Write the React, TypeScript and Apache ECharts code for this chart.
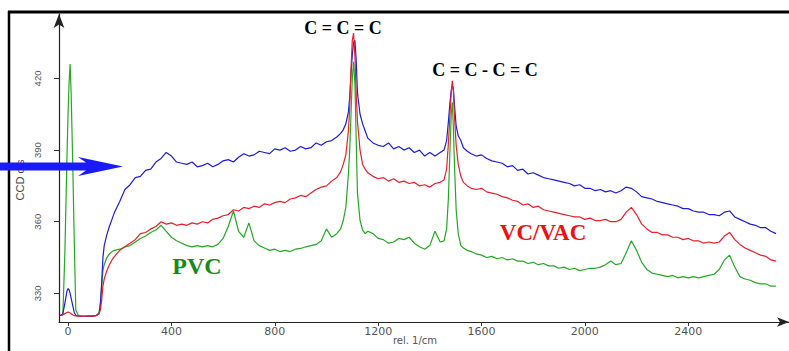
import React, { useEffect, useRef } from "react";
import * as echarts from "echarts";

// Raman shift (rel. 1/cm)
const wavenumbers = [
  -30, -20, -12, -4, 0, 4, 8, 12, 18, 24, 30, 40, 60, 80, 100, 110, 120, 125, 130, 135, 140, 150, 160, 170, 180, 200,
  220, 240, 260, 280, 300, 320, 340, 360, 380, 400, 420, 440, 460, 480, 500, 520, 540, 560, 580, 600, 620, 640, 660, 680,
  700, 720, 740, 760, 780, 800, 820, 840, 860, 880, 900, 920, 940, 960, 980, 1000, 1020, 1040,
  1055, 1065, 1075, 1085, 1090, 1095, 1100, 1105, 1110, 1115, 1120, 1130, 1140, 1150, 1160, 1180, 1200,
  1220, 1240, 1260, 1280, 1300, 1320, 1340, 1360, 1380, 1400, 1420, 1440,
  1455, 1465, 1472, 1478, 1483, 1487, 1491, 1496, 1502, 1510, 1520, 1530, 1545, 1560,
  1580, 1600, 1620, 1640, 1660, 1680, 1700, 1720, 1740, 1760, 1780, 1800, 1820, 1840, 1860, 1880, 1900, 1920, 1940, 1960,
  1980, 2000, 2020, 2040, 2060, 2080, 2100, 2120, 2140, 2160, 2180, 2200, 2220, 2240, 2260, 2280, 2300, 2320, 2340, 2360,
  2380, 2400, 2420, 2440, 2460, 2480, 2500, 2520, 2540, 2560, 2580, 2600, 2620, 2640, 2660, 2680, 2700, 2720, 2740,
];

// CCD counts, blue spectrum
const blueCounts = [
  320.6, 321.5, 326, 331, 332, 331.5, 330, 328, 325, 322, 320.8, 320.5, 320.4, 320.5, 320.5, 320.7, 321.5, 325, 334, 345, 350, 354.5, 358, 361, 364, 368.5,
  373.5, 375.5, 378.5, 379, 381.5, 382, 385, 386.5, 389, 387.5, 385, 384.5, 384, 385, 383, 383.5, 384.5, 383, 384, 385.5, 386, 385, 387, 388.5,
  387.5, 388, 389.5, 389, 388.5, 390.5, 390, 391, 389.5, 390, 391.5, 390.5, 391, 393, 392, 393.5, 394, 395.5,
  397, 398.5, 401, 406, 412, 422, 430, 435, 436, 428, 414, 405, 401, 398, 395, 393, 392,
  391.5, 393, 390.5, 391.5, 390, 391, 389, 390, 387.5, 389, 387.5, 389,
  390, 394, 402, 410, 415, 417, 416, 408, 400, 396, 394, 391, 389.5, 388.5,
  387.5, 388, 386.5, 385.5, 385, 384.5, 383, 383.5, 381.5, 382, 380, 380.5, 379.5, 378.5, 378, 377.5, 377, 376.5, 376, 375,
  375.5, 374, 374, 373, 373.5, 372.5, 373, 372, 373, 374.5, 374, 372.5, 370.5, 370, 369.5, 368.5, 368, 367.5, 367, 366.5,
  365.5, 365.5, 364.5, 364, 364, 363, 363, 362.5, 364, 364.5, 362, 361, 360, 359, 358.5, 357.5, 357.5, 356, 355,
];

// CCD counts, red spectrum (VC/VAC)
const redCounts = [
  320.8, 321, 321.5, 322, 322.2, 322, 321.8, 321.4, 321, 320.7, 320.6, 320.5, 320.4, 320.5, 320.6, 320.8, 321.5, 323, 327, 333, 336, 339.5, 342, 344, 345.5, 348,
  349.5, 351, 352.5, 355, 355.5, 357, 358, 360, 359, 359.5, 358.5, 359, 358.5, 359.5, 359, 360, 359.5, 361, 361.5, 362.5, 363, 365, 364.5, 366,
  365.5, 366.5, 366, 367.5, 367, 368, 368.5, 368, 369.5, 370, 371, 370.5, 372, 373.5, 374.5, 375, 377, 378.5,
  381, 384, 388, 398, 408, 424, 436, 439, 430, 414, 402, 390, 384, 382, 380.5, 379, 378,
  378.5, 377, 378, 376.5, 377, 376, 376.5, 375, 375.5, 374.5, 376, 376.5,
  377.5, 382, 393, 405, 414, 419, 415, 403, 392, 384, 379, 376.5, 375, 374,
  373.5, 374, 372.5, 372, 371.5, 370.5, 370, 369, 368.5, 367, 367.5, 366, 366.5, 365, 364.5, 364, 363.5, 363, 362.5, 362,
  362, 361, 361.5, 360.5, 360.5, 361, 360, 360, 361, 364, 366, 363, 359, 357, 355.5, 355.5, 354.5, 354.5, 353.5, 353.5,
  352.5, 353, 352, 352, 351, 351.5, 351, 351.5, 354, 355.5, 352.5, 350.5, 349, 348, 347, 346, 345.5, 344, 343.5,
];

// CCD counts, green spectrum (PVC)
const greenCounts = [
  320.8, 321, 348, 388, 405, 418, 426, 414, 385, 352, 323, 320.7, 320.5, 320.5, 320.6, 320.8, 322, 326, 333, 339.5, 342, 345, 346.5, 347.5, 348, 348.5,
  349.5, 350, 351.5, 353, 354, 355.5, 356.5, 358.5, 356, 353.5, 352, 351, 350, 349.5, 350, 349.5, 350, 349.5, 350.5, 353, 358, 364.5, 356, 353.5,
  359.5, 352, 350, 349, 348, 348.5, 347.5, 348, 347.5, 348.5, 348.8, 349.5, 350, 350.5, 352, 357, 353.5, 355,
  357, 360.5, 366, 380, 390, 405, 420, 427, 418, 395, 372, 360.5, 356.5, 355, 356, 355, 353,
  352.5, 351, 351.5, 353, 352.5, 353.5, 351, 349.5, 348.5, 350, 356, 351.5,
  352, 357, 370, 390, 405, 410, 400, 382, 365, 355, 350, 349, 348, 347.5,
  346.5, 346, 345, 345.5, 344.5, 345, 344, 344.5, 343.5, 343.5, 342.5, 343, 342, 342.5, 341.5, 341.5, 340.5, 341, 340, 340.5,
  339.5, 340, 340.5, 340.5, 341, 342, 343.5, 342, 342.5, 347, 352, 348, 343, 340, 338.5, 338, 337.5, 337, 337.5, 336.5,
  337, 336.5, 337, 336.5, 337, 337.5, 338, 340, 344, 346, 341, 337, 336, 335.5, 334.5, 334, 334, 333, 333,
];

const xTickValues = [0, 400, 800, 1200, 1600, 2000, 2400];
const yTickValues = [330, 360, 390, 420];

const peakLabels = ["C = C = C", "C = C - C = C"];
const seriesLabels = ["PVC", "VC/VAC"];

export default function App() {
  const ref = useRef<HTMLDivElement>(null);

  useEffect(() => {
    if (!ref.current) return;
    const chart = echarts.init(ref.current, null, { renderer: "svg" });
    const pairs = (vals: number[]) => wavenumbers.map((x, i) => [x, vals[i]]);
    const lineSeries = (name: string, vals: number[], color: string, z: number) => ({
      name,
      type: "line",
      data: pairs(vals),
      showSymbol: false,
      symbol: "none",
      z,
      lineStyle: { color, width: 1.2 },
      emphasis: { disabled: true },
    });
    const center = { textAlign: "center", textVerticalAlign: "middle", align: "center", verticalAlign: "middle" };

    chart.setOption({
      animation: false,
      backgroundColor: "#ffffff",
      grid: { left: 59, right: 0, top: 14, bottom: 29 },
      xAxis: {
        type: "value",
        min: -35,
        max: 2790,
        axisLine: {
          show: true,
          onZero: false,
          symbol: ["none", "arrow"],
          symbolSize: [7, 12],
          lineStyle: { color: "#222", width: 1.2 },
        },
        axisTick: { show: true, customValues: xTickValues, length: 4, lineStyle: { color: "#333" } },
        axisLabel: {
          customValues: xTickValues,
          formatter: (v: number) => String(v),
          color: "#555",
          fontSize: 11,
          fontFamily: "DejaVu Sans",
          margin: 4,
        },
        splitLine: { show: false },
      },
      yAxis: {
        type: "value",
        min: 318,
        max: 447,
        axisLine: {
          show: true,
          onZero: false,
          symbol: ["none", "arrow"],
          symbolSize: [8, 14],
          lineStyle: { color: "#222", width: 1.2 },
        },
        axisTick: { show: true, customValues: yTickValues, length: 5, lineStyle: { color: "#333" } },
        axisLabel: {
          customValues: yTickValues,
          formatter: (v: number) => String(v),
          rotate: 90,
          color: "#555",
          fontSize: 9.5,
          fontFamily: "Liberation Sans",
          margin: 17,
        },
        splitLine: { show: false },
      },
      series: [
        lineSeries("PVC", greenCounts, "#22aa22", 2),
        lineSeries("blue", blueCounts, "#1c1cdc", 3),
        lineSeries("VC/VAC", redCounts, "#e8202a", 4),
      ],
      graphic: [
        { type: "line", shape: { x1: 8, y1: 12, x2: 789, y2: 12 }, style: { stroke: "#000", lineWidth: 3 }, z: 10 },
        { type: "line", shape: { x1: 9, y1: 11, x2: 9, y2: 351 }, style: { stroke: "#000", lineWidth: 2.5 }, z: 10 },
        {
          type: "text", x: 20, y: 180, rotation: Math.PI / 2, z: 10,
          style: { text: "CCD cts", fill: "#444", font: "11px 'Liberation Sans'", ...center },
        },
        {
          type: "polygon", z: 20,
          shape: { points: [[0, 162.5], [86, 162.5], [78, 157], [123, 166.5], [78, 176], [86, 170.5], [0, 170.5]] },
          style: { fill: "#1a1aff" },
        },
        {
          type: "text", x: 415, y: 340, z: 10,
          style: { text: "rel. 1/cm", fill: "#555", font: "10px 'DejaVu Sans'", ...center },
        },
        {
          type: "text", x: 343, y: 28, z: 10,
          style: { text: peakLabels[0], fill: "#000", font: "bold 18px 'Liberation Serif'", ...center },
        },
        {
          type: "text", x: 485, y: 70, z: 10,
          style: { text: peakLabels[1], fill: "#000", font: "bold 18px 'Liberation Serif'", ...center },
        },
        {
          type: "text", x: 197, y: 266, z: 10,
          style: { text: seriesLabels[0], fill: "#178a17", font: "bold 24px 'Liberation Serif'", ...center },
        },
        {
          type: "text", x: 543, y: 232, z: 10,
          style: { text: seriesLabels[1], fill: "#f01010", font: "bold 23px 'Liberation Serif'", ...center },
        },
      ],
    });

    return () => chart.dispose();
  }, []);

  return (
    <div
      ref={ref}
      style={{ position: "fixed", left: 0, top: 0, width: 789, height: 351, background: "#fff" }}
    />
  );
}
